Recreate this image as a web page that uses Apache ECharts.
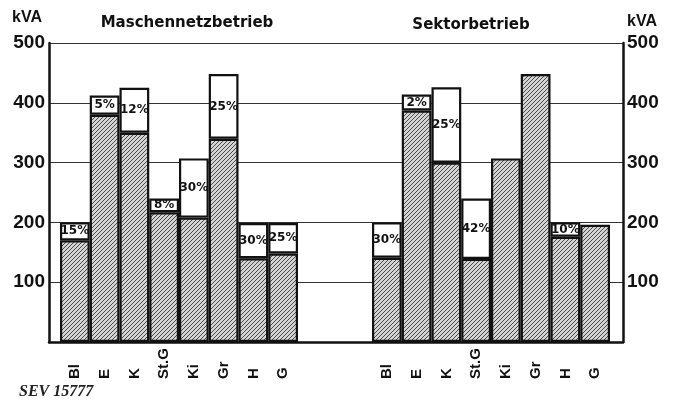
<!DOCTYPE html>
<html>
<head>
<meta charset="utf-8">
<script src="https://cdn.jsdelivr.net/npm/echarts@6/dist/echarts.min.js"></script>
<style>
html,body{margin:0;padding:0;background:#fff;}
#c{width:674px;height:403px;}
</style>
</head>
<body>
<div id="c"></div>
<script>
// ---- data ----
var categories = ['Bl', 'E', 'K', 'St.G', 'Ki', 'Gr', 'H', 'G'];
var yTicks = [0, 100, 200, 300, 400, 500];
// Maschennetzbetrieb
var meshBase  = [170, 380, 350, 217, 208, 340, 140, 148];
var meshTotal = [200, 412, 425, 240, 307, 448, 199, 199];
var meshPct   = ['15%', '5%', '12%', '8%', '30%', '25%', '30%', '25%'];
// Sektorbetrieb
var secBase  = [141, 387, 300, 139, 307, 448, 176, 196];
var secTotal = [200, 414, 426, 240, 307, 448, 200, 196];
var secPct   = ['30%', '2%', '25%', '42%', '', '', '10%', ''];

// ---- hatch pattern ----
function hatch() {
  var s = 4;
  var cv = document.createElement('canvas');
  cv.width = s; cv.height = s;
  var g = cv.getContext('2d');
  g.fillStyle = '#d4d4d4';
  g.fillRect(0, 0, s, s);
  g.strokeStyle = '#4a4a4a';
  g.lineWidth = 1.0;
  g.beginPath();
  g.moveTo(-1, s + 1); g.lineTo(s + 1, -1);
  g.moveTo(-1, 1); g.lineTo(1, -1);
  g.moveTo(s - 1, s + 1); g.lineTo(s + 1, s - 1);
  g.stroke();
  return cv;
}
var hatchFill = { image: hatch(), repeat: 'repeat' };

var chart = echarts.init(document.getElementById('c'), null, { renderer: 'canvas' });

var TOP = 43, BOTTOM = 61;
var tickFont = { fontFamily: 'Liberation Sans', fontWeight: 'bold', fontSize: 19, color: '#111' };

function diff(t, b) {
  return t.map(function (v, i) { var d = v - b[i]; return d > 0 ? d : null; });
}

function barSeries(idx, base, total, pct) {
  return [
    {
      type: 'bar', xAxisIndex: idx, yAxisIndex: idx, stack: 's' + idx,
      data: base, barWidth: '100%', barCategoryGap: 0,
      itemStyle: { color: hatchFill, borderColor: '#111', borderWidth: 2.2 },
      emphasis: { disabled: true }, z: 3
    },
    {
      type: 'bar', xAxisIndex: idx, yAxisIndex: idx, stack: 's' + idx,
      data: diff(total, base), barWidth: '100%', barCategoryGap: 0,
      itemStyle: { color: '#fff', borderColor: '#111', borderWidth: 2.2 },
      label: {
        show: true, position: 'inside',
        formatter: function (p) { return pct[p.dataIndex]; },
        fontFamily: 'DejaVu Sans', fontWeight: 'bold', fontSize: 12, color: '#111'
      },
      emphasis: { disabled: true }, z: 3
    }
  ];
}

var xLabel = {
  rotate: 90, align: 'left', verticalAlign: 'middle', margin: 37,
  fontFamily: 'Liberation Sans', fontWeight: 'bold', fontSize: 15, color: '#111'
};

var option = {
  animation: false,
  backgroundColor: '#fff',
  grid: [
    { left: 49, right: 51, top: TOP, bottom: BOTTOM },
    { left: 60, width: 238, top: TOP, bottom: BOTTOM },
    { left: 372, width: 238, top: TOP, bottom: BOTTOM }
  ],
  xAxis: [
    { gridIndex: 0, type: 'value', min: 0, max: 1, show: true,
      axisLine: { show: true, onZero: false, lineStyle: { color: '#111', width: 2.5 } },
      axisTick: { show: false }, axisLabel: { show: false }, splitLine: { show: false } },
    { gridIndex: 1, type: 'category', data: categories,
      axisLine: { show: false }, axisTick: { show: false }, axisLabel: xLabel },
    { gridIndex: 2, type: 'category', data: categories,
      axisLine: { show: false }, axisTick: { show: false }, axisLabel: xLabel }
  ],
  yAxis: [
    { gridIndex: 0, type: 'value', min: yTicks[0], max: yTicks[yTicks.length - 1], interval: 100, position: 'left',
      axisLine: { show: true, lineStyle: { color: '#111', width: 2.5 } },
      axisTick: { show: false },
      axisLabel: Object.assign({ margin: 4, formatter: function (v) { return v === 0 ? '' : String(v); } }, tickFont),
      splitLine: { show: true, lineStyle: { color: '#333', width: 1 } } },
    { gridIndex: 1, type: 'value', min: 0, max: 500, show: false, splitLine: { show: false } },
    { gridIndex: 2, type: 'value', min: 0, max: 500, show: false, splitLine: { show: false } },
    { gridIndex: 0, type: 'value', min: yTicks[0], max: yTicks[yTicks.length - 1], interval: 100, position: 'right',
      axisLine: { show: true, lineStyle: { color: '#111', width: 2.5 } },
      axisTick: { show: false },
      axisLabel: Object.assign({ margin: 4, formatter: function (v) { return v === 0 ? '' : String(v); } }, tickFont),
      splitLine: { show: false } }
  ],
  series: [].concat(
    barSeries(1, meshBase, meshTotal, meshPct),
    barSeries(2, secBase, secTotal, secPct)
  ),
  graphic: [
    { type: 'text', left: 12, top: 10, style: { text: 'kVA', font: 'bold 16px "Liberation Sans"', fill: '#111' } },
    { type: 'text', left: 627, top: 14, style: { text: 'kVA', font: 'bold 16px "Liberation Sans"', fill: '#111' } },
    { type: 'text', x: 187, y: 23, style: { text: 'Maschennetzbetrieb', font: 'bold 15px "DejaVu Sans"', fill: '#111', align: 'center', verticalAlign: 'middle' } },
    { type: 'text', x: 471, y: 25, style: { text: 'Sektorbetrieb', font: 'bold 15px "DejaVu Sans"', fill: '#111', align: 'center', verticalAlign: 'middle' } },
    { type: 'text', left: 19, top: 384, style: { text: 'SEV 15777', font: 'italic bold 16px "Liberation Serif"', fill: '#222' } }
  ]
};
chart.setOption(option);
</script>
</body>
</html>
